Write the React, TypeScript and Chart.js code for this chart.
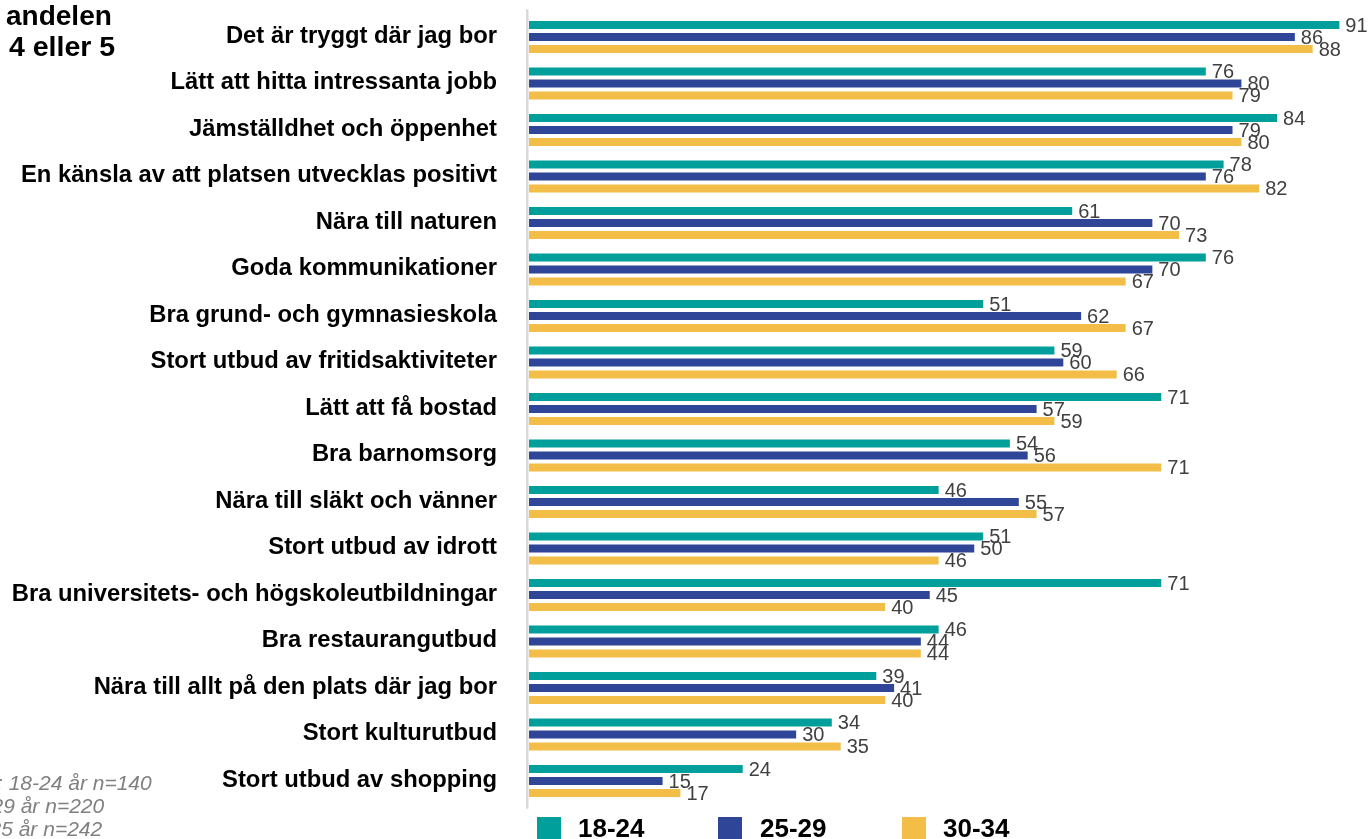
import React, { useEffect, useRef } from "react";
import { Chart, registerables } from "chart.js";

Chart.register(...registerables);

const categories = [
  "Det är tryggt där jag bor",
  "Lätt att hitta intressanta jobb",
  "Jämställdhet och öppenhet",
  "En känsla av att platsen utvecklas positivt",
  "Nära till naturen",
  "Goda kommunikationer",
  "Bra grund- och gymnasieskola",
  "Stort utbud av fritidsaktiviteter",
  "Lätt att få bostad",
  "Bra barnomsorg",
  "Nära till släkt och vänner",
  "Stort utbud av idrott",
  "Bra universitets- och högskoleutbildningar",
  "Bra restaurangutbud",
  "Nära till allt på den plats där jag bor",
  "Stort kulturutbud",
  "Stort utbud av shopping",
];

const seriesNames = ["18-24", "25-29", "30-34"];
const values1824 = [91, 76, 84, 78, 61, 76, 51, 59, 71, 54, 46, 51, 71, 46, 39, 34, 24];
const values2529 = [86, 80, 79, 76, 70, 70, 62, 60, 57, 56, 55, 50, 45, 44, 41, 30, 15];
const values3034 = [88, 79, 80, 82, 73, 67, 67, 66, 59, 71, 57, 46, 40, 44, 40, 35, 17];
const colors = ["#009F9B", "#2F4598", "#F2BE47"];

const titleLines = ["andelen", "4 eller 5"];
const noteLines = [": 18-24 år n=140", "29 år n=220", "35 år n=242"];

const FONT = '"Liberation Sans", Arial, sans-serif';

const overlayPlugin = {
  id: "overlay",
  beforeDatasetsDraw(chart: any) {
    const { ctx, chartArea } = chart;
    ctx.save();
    ctx.fillStyle = "#D9D9D9";
    ctx.fillRect(chartArea.left - 3, chartArea.top - 4.5, 2.5, chartArea.bottom - chartArea.top + 9);
    ctx.restore();
  },
  afterDatasetsDraw(chart: any) {
    const { ctx } = chart;
    ctx.save();
    ctx.fillStyle = "#404040";
    ctx.font = `20px ${FONT}`;
    ctx.textAlign = "left";
    ctx.textBaseline = "middle";
    chart.data.datasets.forEach((ds: any, i: number) => {
      const meta = chart.getDatasetMeta(i);
      meta.data.forEach((bar: any, j: number) => {
        ctx.fillText(String(ds.data[j]), bar.x + 6, bar.y + 1);
      });
    });
    ctx.restore();
  },
};

export default function App() {
  const ref = useRef<HTMLCanvasElement>(null);

  useEffect(() => {
    if (!ref.current) return;
    const chart = new Chart(ref.current, {
      type: "bar",
      data: {
        labels: categories,
        datasets: [values1824, values2529, values3034].map((d, i) => ({
          label: seriesNames[i],
          data: d,
          backgroundColor: colors[i],
          borderWidth: 0,
          barPercentage: 0.68,
          categoryPercentage: 0.774,
        })),
      },
      options: {
        indexAxis: "y",
        animation: false,
        responsive: false,
        maintainAspectRatio: false,
        layout: { padding: { top: 13.75, bottom: 34.75, left: 0, right: 0 } },
        scales: {
          x: { display: false, min: 0, max: 94.44 },
          y: {
            grid: { display: false, drawTicks: false },
            border: { display: false },
            ticks: {
              autoSkip: false,
              color: "#000000",
              padding: 32,
              labelOffset: -1,
              font: { family: FONT, size: 23.8, weight: "bold" },
            },
            afterFit: (s: any) => {
              s.width = 529;
              s.paddingTop = 0;
              s.paddingBottom = 0;
            },
          },
        },
        plugins: { legend: { display: false }, tooltip: { enabled: false } },
      },
      plugins: [overlayPlugin],
    } as any);
    return () => chart.destroy();
  }, []);

  const legendPos = [
    { sq: 537, tx: 578 },
    { sq: 718, tx: 760 },
    { sq: 902, tx: 943 },
  ];

  return (
    <div
      style={{
        position: "fixed",
        left: 0,
        top: 0,
        width: 1370,
        height: 839,
        overflow: "hidden",
        background: "#fff",
      }}
    >
      <canvas ref={ref} width={1370} height={839} style={{ position: "absolute", left: 0, top: 0, width: 1370, height: 839 }} />
      <div style={{ position: "absolute", left: 6, top: 1, font: `bold 28px ${FONT}`, lineHeight: "30px", color: "#000", whiteSpace: "nowrap" }}>
        {titleLines[0]}
      </div>
      <div style={{ position: "absolute", left: 9, top: 31, font: `bold 28.5px ${FONT}`, lineHeight: "30px", color: "#000", whiteSpace: "nowrap" }}>
        {titleLines[1]}
      </div>
      {noteLines.map((t, i) => (
        <div
          key={i}
          style={{
            position: "absolute",
            left: [-3, -8.5, -10.5][i],
            top: 771 + i * 23,
            font: `italic 21px ${FONT}`,
            lineHeight: "23px",
            color: "#808080",
            whiteSpace: "nowrap",
          }}
        >
          {t}
        </div>
      ))}
      {seriesNames.map((n, i) => (
        <React.Fragment key={n}>
          <div style={{ position: "absolute", left: legendPos[i].sq, top: 817, width: 24, height: 24, background: colors[i] }} />
          <div style={{ position: "absolute", left: legendPos[i].tx, top: 815, font: `bold 26px ${FONT}`, lineHeight: "26px", color: "#000", whiteSpace: "nowrap" }}>
            {n}
          </div>
        </React.Fragment>
      ))}
    </div>
  );
}
